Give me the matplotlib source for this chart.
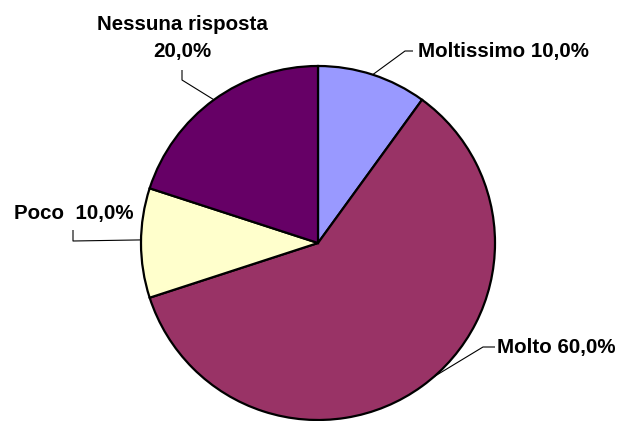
import numpy as np
import matplotlib
matplotlib.use("Agg")
import matplotlib.pyplot as plt

# Survey answers and shares (%)
labels = ["Moltissimo", "Molto", "Poco", "Nessuna risposta"]
values = [10.0, 60.0, 10.0, 20.0]
colors = ["#9999FF", "#993366", "#FFFFCC", "#660066"]

W, H = 621, 421
fig = plt.figure(figsize=(W / 100, H / 100), dpi=100)
ax = fig.add_axes([0, 0, 1, 1])

cx, cy, r = 318, H - 243, 177
wedges, _ = ax.pie(values, colors=colors, startangle=90, counterclock=False,
                   center=(cx, cy), radius=r,
                   wedgeprops=dict(edgecolor="black", linewidth=1.6),
                   frame=True)
ax.set_xlim(0, W)
ax.set_ylim(0, H)
ax.set_aspect("equal")
ax.axis("off")

def fmt(v):
    return f"{v:.1f}".replace(".", ",") + "%"

texts = [
    f"{labels[0]} {fmt(values[0])}",
    f"{labels[1]} {fmt(values[1])}",
    f"{labels[2]}  {fmt(values[2])}",
    f"{labels[3]}\n{fmt(values[3])}",
]
# text position (pixels from top-left), alignment, leader elbow/end, anchor angle offset
layout = [
    dict(xy=(418, 51), ha="left", path=[(405, 51), (413, 51)], dang=0, ls=1.2),
    dict(xy=(497, 347), ha="left", path=[(483, 347), (495, 347)], dang=5, ls=1.2),
    dict(xy=(14, 213), ha="left", path=[(73, 241), (73, 230)], dang=-1, ls=1.2),
    dict(xy=(182, 38), ha="center", path=[(182, 80), (182, 70)], dang=0, ls=1.55),
]

font = dict(family=["Liberation Sans", "DejaVu Sans"], weight="bold", size=14.8)

for w, t, lay in zip(wedges, texts, layout):
    ang = np.deg2rad((w.theta1 + w.theta2) / 2 + lay["dang"])
    ax_ = cx + r * np.cos(ang)
    ay_ = cy + r * np.sin(ang)
    pts = [(ax_, ay_)] + [(px, H - py) for px, py in lay["path"]]
    xs, ys = zip(*pts)
    ax.plot(xs, ys, color="black", lw=0.8, solid_capstyle="butt", zorder=0.5)
    ax.text(lay["xy"][0], H - lay["xy"][1], t, ha=lay["ha"], va="center",
            linespacing=lay["ls"], **font)

fig.savefig("out.png", dpi=100)
